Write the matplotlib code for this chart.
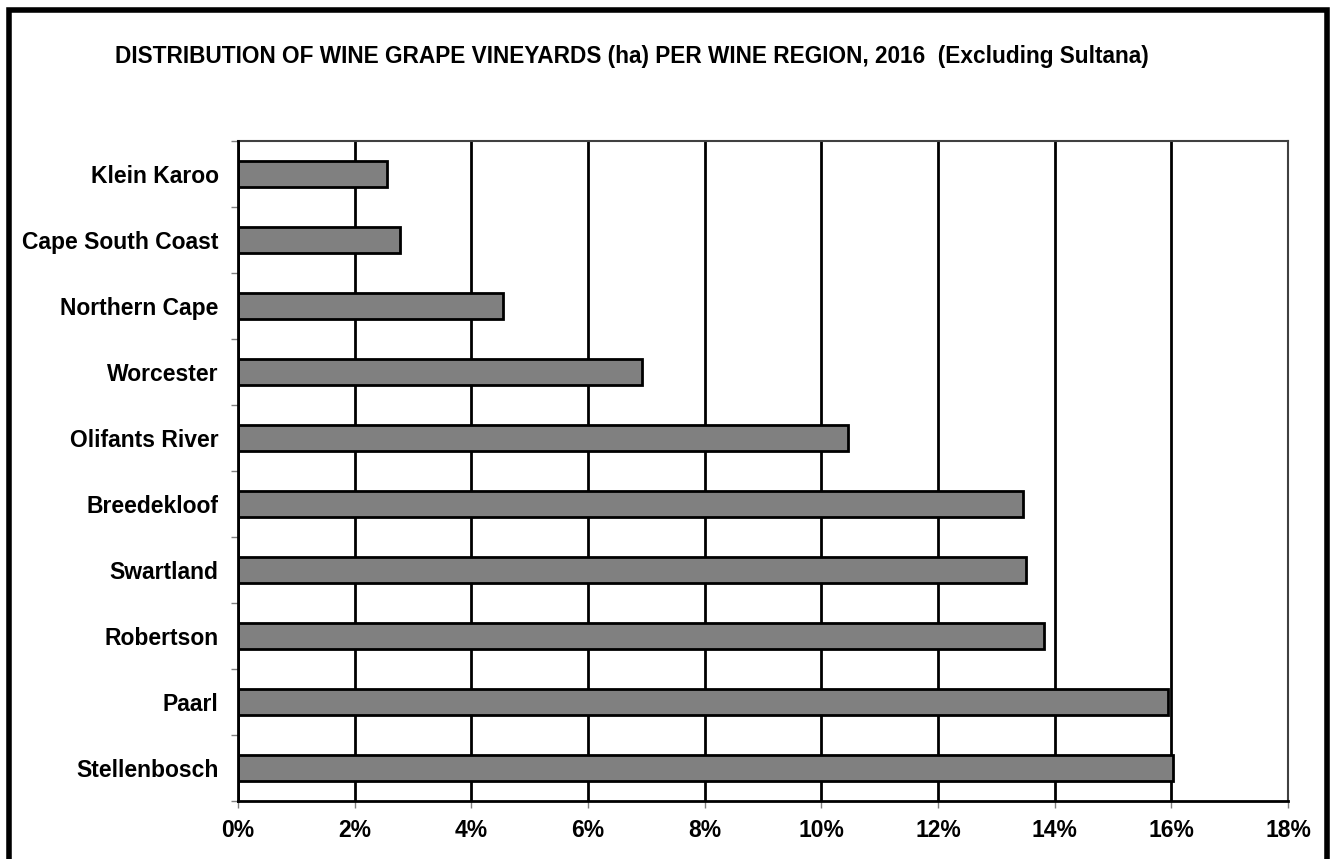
import matplotlib
matplotlib.use('Agg')
import matplotlib.pyplot as plt
import matplotlib.patches as mpatches
import numpy as np

plt.rcParams['font.family'] = ['Liberation Sans', 'DejaVu Sans']

# bottom to top
regions = ["Stellenbosch", "Paarl", "Robertson", "Swartland", "Breedekloof",
           "Olifants River", "Worcester", "Northern Cape", "Cape South Coast",
           "Klein Karoo"]
share = [16.02, 15.95, 13.81, 13.51, 13.46, 10.46, 6.92, 4.55, 2.77, 2.56]
xticks = [0, 2, 4, 6, 8, 10, 12, 14, 16, 18]
title = "DISTRIBUTION OF WINE GRAPE VINEYARDS (ha) PER WINE REGION, 2016  (Excluding Sultana)"

W, H = 1331, 859
fig = plt.figure(figsize=(W / 100, H / 100), dpi=100)
ax = fig.add_axes([238 / W, 1 - 801 / H, (1288 - 238) / W, (801 - 141) / H])

y = np.arange(len(regions))
ax.barh(y, share, height=0.4, color="#808080", edgecolor="black",
        linewidth=2, zorder=3)
ax.set_ylim(-0.5, len(regions) - 0.5)
ax.set_xlim(0, 18)

ax.set_xticks(xticks)
ax.set_xticklabels([f"{t}%" for t in xticks], fontsize=16.5, fontweight='bold')
ax.set_yticks(y)
ax.set_yticklabels(regions, fontsize=16.5, fontweight='bold')
ax.tick_params(axis='y', length=0, pad=14)
ax.set_yticks(np.arange(-0.5, len(regions), 1), minor=True)
ax.tick_params(axis='y', which='minor', length=5, color='#808080', width=1)
ax.tick_params(axis='x', length=5, color='#808080', width=1, pad=8)

ax.grid(axis='x', color='black', linewidth=2, zorder=1)
for s in ['top', 'right']:
    ax.spines[s].set_color('#404040')
    ax.spines[s].set_linewidth(1.5)
for s in ['left', 'bottom']:
    ax.spines[s].set_color('black')
    ax.spines[s].set_linewidth(2)
    ax.spines[s].set_zorder(4)

fig.text(632 / W, 1 - 56 / H, title, ha='center', va='center',
         fontsize=16.25, fontweight='bold')

# outer frame, cut off at the bottom edge
frame = mpatches.Rectangle((9 / W, -0.05), (1327 - 9) / W, 1.05 - 10 / H,
                           transform=fig.transFigure, fill=False,
                           edgecolor='black', linewidth=4, clip_on=False)
fig.patches.append(frame)

plt.savefig("out.png", dpi=100)
plt.close()
